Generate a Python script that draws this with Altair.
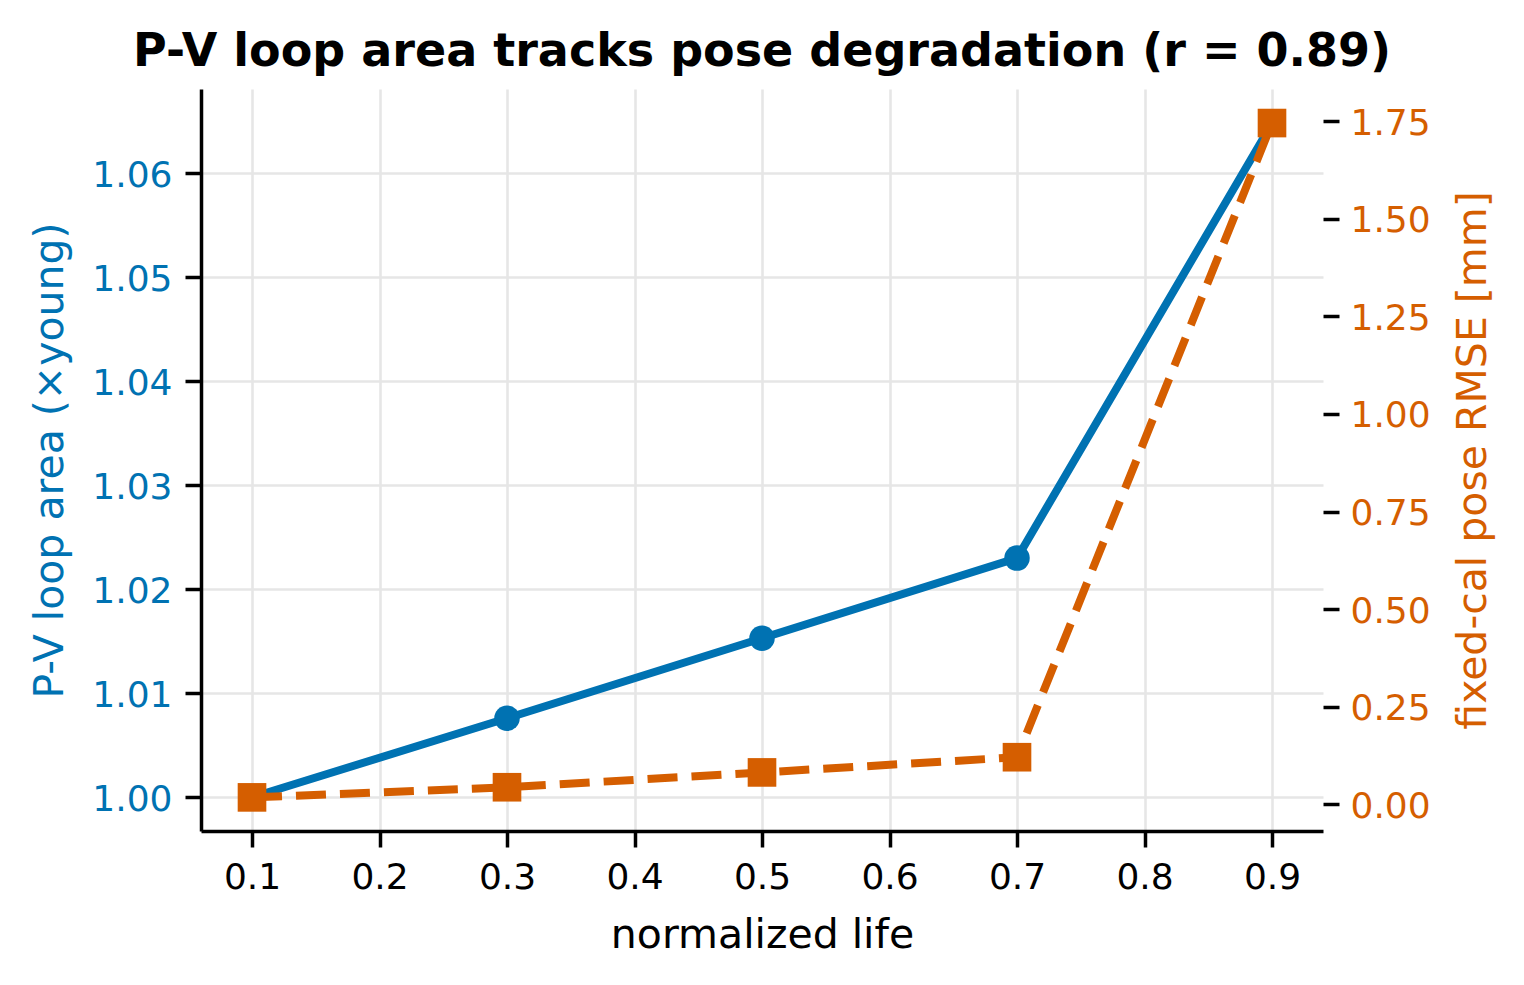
import altair as alt
import pandas as pd

# ---- data ----
life = [0.1, 0.3, 0.5, 0.7, 0.9]
pv_area = [1.0000, 1.0076, 1.0153, 1.0230, 1.0648]
pose_rmse = [0.017, 0.043, 0.081, 0.120, 1.746]

x_ticks = [0.1, 0.2, 0.3, 0.4, 0.5, 0.6, 0.7, 0.8, 0.9]
left_ticks = [1.00, 1.01, 1.02, 1.03, 1.04, 1.05, 1.06]
right_ticks = [0.0, 0.25, 0.5, 0.75, 1.0, 1.25, 1.5, 1.75]

x_domain = [0.06, 0.94]
left_domain = [0.99676, 1.06811]
right_domain = [-0.0692, 1.8333]

df = pd.DataFrame({"life": life, "pv": pv_area, "rmse": pose_rmse})

BLUE = "#0072B2"
ORANGE = "#D55E00"
FONT = "DejaVu Sans"
GRID = "#e6e6e6"

W, H = 1122, 742

xenc = alt.X(
    "life:Q",
    scale=alt.Scale(domain=x_domain, nice=False, zero=False),
    axis=alt.Axis(
        values=x_ticks, format=".1f", title="normalized life",
        grid=True, labelBaseline="alphabetic", labelPadding=41,
        titleX=W / 2, titleY=116, titleBaseline="alphabetic", titleAnchor="middle",
    ),
)

yl_scale = alt.Scale(domain=left_domain, nice=False, zero=False)
yl_axis = alt.Axis(
    orient="left", values=left_ticks, format=".2f",
    title="P-V loop area (×young)", labelColor=BLUE, titleColor=BLUE,
    grid=True, labelBaseline="alphabetic", labelOffset=13, labelPadding=13,
    titleAngle=270, titleX=-139, titleY=H / 2, titleBaseline="alphabetic",
    titleAlign="center",
)

yr_scale = alt.Scale(domain=right_domain, nice=False, zero=False)
yr_axis = alt.Axis(
    orient="right", values=right_ticks, format=".2f",
    title="fixed-cal pose RMSE [mm]", labelColor=ORANGE, titleColor=ORANGE,
    grid=False, domain=False, labelBaseline="alphabetic", labelOffset=13,
    labelPadding=11,
    titleAngle=270, titleX=162, titleY=H / 2, titleBaseline="alphabetic",
    titleAlign="center",
)

base = alt.Chart(df)

blue_line = base.mark_line(color=BLUE, strokeWidth=8, strokeJoin="round", strokeCap="square").encode(
    x=xenc, y=alt.Y("pv:Q", scale=yl_scale, axis=yl_axis)
)
blue_pts = base.mark_circle(color=BLUE, size=650, opacity=1).encode(
    x=xenc, y=alt.Y("pv:Q", scale=yl_scale, axis=yl_axis)
)
left_layer = alt.layer(blue_line, blue_pts)

orange_line = base.mark_line(color=ORANGE, strokeWidth=8, strokeDash=[30, 14], strokeJoin="round").encode(
    x=xenc, y=alt.Y("rmse:Q", scale=yr_scale, axis=yr_axis)
)
orange_pts = base.mark_point(shape="square", filled=True, color=ORANGE, size=820, opacity=1).encode(
    x=xenc, y=alt.Y("rmse:Q", scale=yr_scale, axis=yr_axis)
)
right_layer = alt.layer(orange_line, orange_pts)

chart = (
    alt.layer(left_layer, right_layer)
    .resolve_scale(y="independent")
    .properties(
        width=W,
        height=H,
        title=alt.TitleParams(
            text="P-V loop area tracks pose degradation (r = 0.89)",
            font=FONT, fontSize=46, fontWeight="bold", color="black",
            anchor="middle", baseline="alphabetic", offset=22, dy=45,
        ),
        autosize=alt.AutoSizeParams(type="none"),
        padding={"left": 193, "top": 81, "right": 193, "bottom": 140},
    )
    .configure_view(strokeWidth=0)
    .configure_axis(
        labelFont=FONT, titleFont=FONT, labelFontSize=36, titleFontSize=41,
        titleFontWeight="normal", labelColor="black", titleColor="black",
        tickSize=16, tickWidth=3.5, tickColor="black",
        domainColor="black", domainWidth=3.5,
        gridColor=GRID, gridWidth=2.6,
        labelFlush=False, labelOverlap=False,
    )
)

chart.save("out.html", embed_options={"renderer": "svg", "actions": False})
